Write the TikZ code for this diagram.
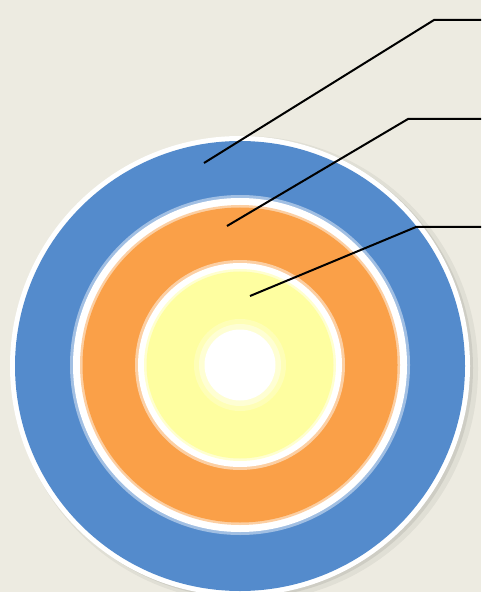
\documentclass[tikz,border=0pt]{standalone}
\usetikzlibrary{calc}
\definecolor{bgc}{RGB}{237,235,225}
\definecolor{ringblue}{RGB}{84,139,204}
\definecolor{ringorange}{RGB}{250,160,72}
\definecolor{ringyellow}{RGB}{254,254,160}
\tikzset{
  leader/.style={draw=black,line width=1pt,line join=miter},
  disc/.style={circle,inner sep=0pt,outer sep=0pt,draw=none}
}
\begin{document}
\begin{tikzpicture}[x=0.5pt,y=-0.5pt]
\useasboundingbox (0,0) rectangle (481,592);
\clip (0,0) rectangle (481,592);
\fill[bgc] (0,0) rectangle (481,592);
% soft shadow
\fill[black,opacity=0.05] (245,369) circle[radius=233];
\fill[black,opacity=0.08] (243,368) circle[radius=230];
% rings
\node[disc,fill=white,minimum size=460*0.5pt] (rim) at (240,366) {};
\node[disc,fill=ringblue,minimum size=450*0.5pt] (blue) at (240,366) {};
\node[disc,fill=white,opacity=0.45,minimum size=340*0.5pt] (halo1) at (240,365) {};
\node[disc,fill=white,minimum size=334*0.5pt] (wring1) at (240,365) {};
\node[disc,fill=white!50!ringorange,minimum size=320*0.5pt] (soft1) at (240,365) {};
\node[disc,fill=ringorange,minimum size=315*0.5pt] (orange) at (240,365) {};
\node[disc,fill=white!50!ringorange,minimum size=210*0.5pt] (halo2) at (240,365) {};
\node[disc,fill=white,minimum size=204*0.5pt] (wring2) at (240,365) {};
\node[disc,fill=white!50!ringyellow,minimum size=192*0.5pt] (soft2) at (240,365) {};
\node[disc,fill=ringyellow,minimum size=187*0.5pt] (yellow) at (240,365) {};
\node[disc,fill=white,opacity=0.25,minimum size=92*0.5pt] (glow1) at (240,365) {};
\node[disc,fill=white,opacity=0.4,minimum size=82*0.5pt] (glow2) at (240,365) {};
\node[disc,fill=white,minimum size=71*0.5pt] (core) at (240,365) {};
% leader lines
\coordinate (p1) at (204,163);
\coordinate (k1) at (434,20);
\coordinate (e1) at (481,20);
\coordinate (p2) at (227,226);
\coordinate (k2) at (408,119);
\coordinate (e2) at (481,119);
\coordinate (p3) at (250,296);
\coordinate (k3) at (416,227);
\coordinate (e3) at (481,227);
\draw[leader] (p1) -- (k1) -- (e1);
\draw[leader] (p2) -- (k2) -- (e2);
\draw[leader] (p3) -- (k3) -- (e3);
\end{tikzpicture}
\end{document}
